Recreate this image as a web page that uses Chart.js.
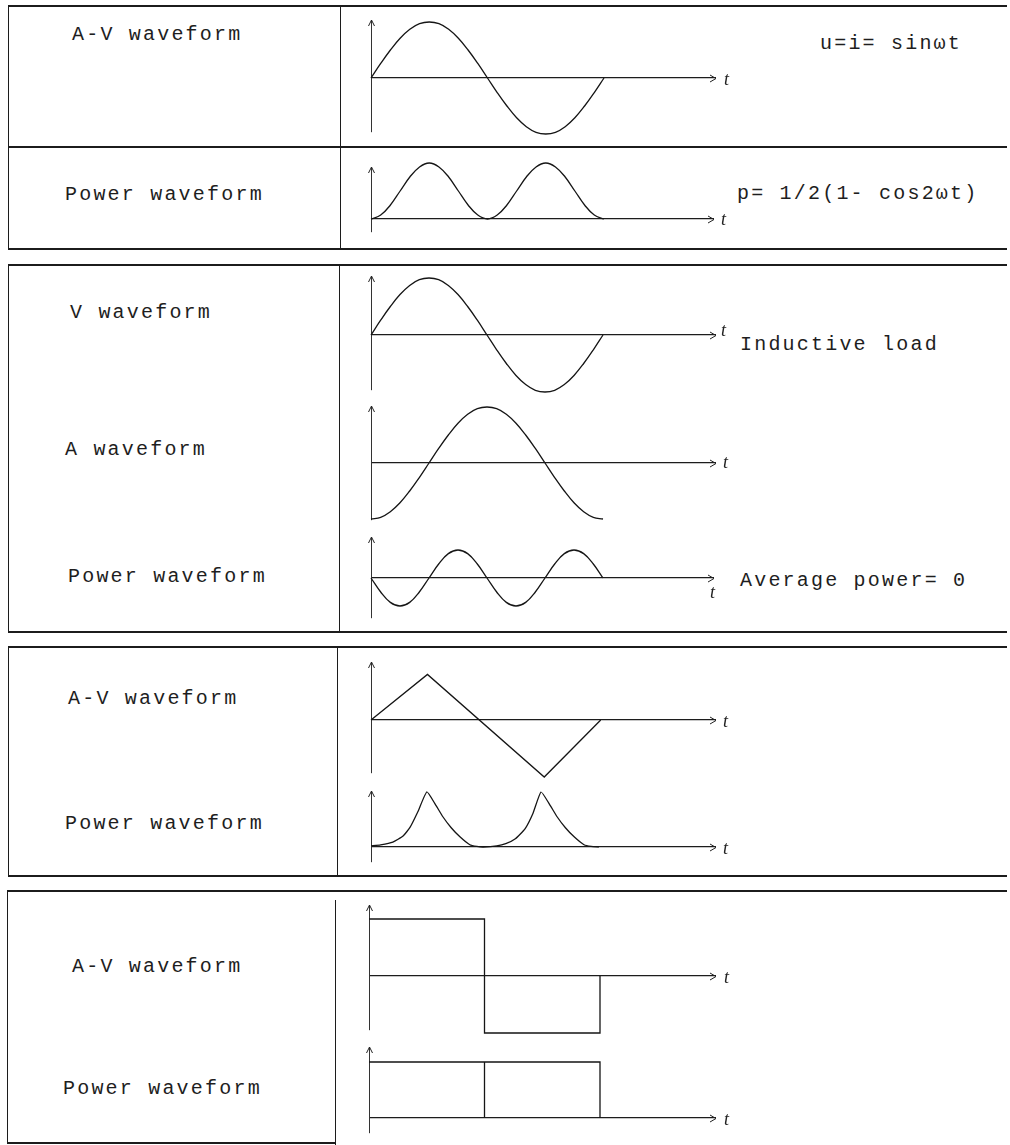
<!DOCTYPE html>
<html>
<head>
<meta charset="utf-8">
<script src="https://cdn.jsdelivr.net/npm/chart.js@4.4.0/dist/chart.umd.min.js"></script>
<style>
  body { margin: 0; background: #fff; }
  #page { position: relative; width: 1010px; height: 1145px; overflow: hidden; }
  .ln { position: absolute; background: #1c1c1c; }
  .lbl { position: absolute; font-family: "Liberation Mono", monospace; font-size: 20px; letter-spacing: 2.2px;
         color: #1e1e1e; line-height: 1; transform: translateY(-50%); white-space: nowrap; }
  .wave { position: absolute; }
</style>
</head>
<body>
<div id="page"></div>
<script>
// x values are in degrees of wt (one period = 360)
const sinDeg = [0, 15, 30, 45, 60, 75, 90, 105, 120, 135, 150, 165, 180, 195, 210, 225, 240, 255, 270, 285, 300, 315, 330, 345, 360];

// section 1: resistive load
const avSine    = [0, 0.26, 0.5, 0.71, 0.87, 0.97, 1, 0.97, 0.87, 0.71, 0.5, 0.26, 0, -0.26, -0.5, -0.71, -0.87, -0.97, -1, -0.97, -0.87, -0.71, -0.5, -0.26, 0];
const powerSin2 = [0, 0.07, 0.25, 0.5, 0.75, 0.93, 1, 0.93, 0.75, 0.5, 0.25, 0.07, 0, 0.07, 0.25, 0.5, 0.75, 0.93, 1, 0.93, 0.75, 0.5, 0.25, 0.07, 0];

// section 2: inductive load
const vInductive = [0, 0.26, 0.5, 0.71, 0.87, 0.97, 1, 0.97, 0.87, 0.71, 0.5, 0.26, 0, -0.26, -0.5, -0.71, -0.87, -0.97, -1, -0.97, -0.87, -0.71, -0.5, -0.26, 0];
const aInductive = [-1, -0.97, -0.87, -0.71, -0.5, -0.26, 0, 0.26, 0.5, 0.71, 0.87, 0.97, 1, 0.97, 0.87, 0.71, 0.5, 0.26, 0, -0.26, -0.5, -0.71, -0.87, -0.97, -1];
const pInductive = [0, -0.5, -0.87, -1, -0.87, -0.5, 0, 0.5, 0.87, 1, 0.87, 0.5, 0, -0.5, -0.87, -1, -0.87, -0.5, 0, 0.5, 0.87, 1, 0.87, 0.5, 0];

// section 3: triangle wave
const triDeg = [0, 88, 270, 358];
const triAV  = [0, 0.8, -1, 0];
const triPowDeg = [0, 15, 34, 50, 61, 73, 87, 100, 112, 125, 139, 154, 165, 175, 196, 210, 225, 240, 252, 265, 278, 290, 303, 317, 332, 343, 355];
const triPow    = [0.02, 0.04, 0.09, 0.2, 0.36, 0.64, 1, 0.78, 0.55, 0.35, 0.18, 0.04, 0.01, 0, 0.02, 0.06, 0.15, 0.33, 0.6, 1, 0.78, 0.55, 0.35, 0.18, 0.04, 0.01, 0];

// section 4: square wave
const sqDeg = [0, 180, 180, 360, 360];
const sqAV  = [1, 1, -1, -1, 0];
const sqPowDeg = [0, 180, 180, 180, 360, 360];
const sqPow    = [1, 1, 0, 1, 1, 0];

const page = document.getElementById('page');

// table rules (layout only)
const rules = [
  // section 1
  [8, 5, 999, 2], [8, 5, 1, 244], [340, 5, 1, 244], [8, 146, 999, 2], [8, 248, 999, 2],
  // section 2
  [8, 264, 999, 2], [8, 264, 1, 368], [339, 264, 1, 368], [8, 631, 999, 2],
  // section 3
  [8, 646, 999, 2], [8, 646, 1, 230], [337, 646, 1, 230], [8, 875, 999, 2],
  // section 4
  [7, 890, 1000, 2], [7, 890, 1, 253], [335, 900, 1, 245], [7, 1142, 328, 2]
];
rules.forEach(r => {
  const d = document.createElement('div');
  d.className = 'ln';
  d.style.cssText = `left:${r[0]}px;top:${r[1]}px;width:${r[2]}px;height:${r[3]}px;`;
  page.appendChild(d);
});

const labels = [
  ['A-V waveform', 72, 35], ['Power waveform', 65, 195], ['u=i= sin\u03c9t', 820, 44], ['p= 1/2(1- cos2\u03c9t)', 737, 194],
  ['V waveform', 70, 313], ['A waveform', 65, 450], ['Power waveform', 68, 577],
  ['Inductive load', 740, 345], ['Average power= 0', 740, 581],
  ['A-V waveform', 68, 699], ['Power waveform', 65, 824],
  ['A-V waveform', 72, 967], ['Power waveform', 63, 1089]
];
labels.forEach(l => {
  const d = document.createElement('div');
  d.className = 'lbl';
  d.textContent = l[0];
  d.style.left = l[1] + 'px';
  d.style.top = l[2] + 'px';
  page.appendChild(d);
});

// arrowheads on the axes and the "t" label
const axisArrows = {
  id: 'axisArrows',
  afterDraw(chart, args, opts) {
    const { ctx, chartArea: a } = chart;
    const y0 = Math.round(chart.scales.y.getPixelForValue(0)) + 0.5;
    const x0 = Math.round(a.left) + 0.5;
    ctx.save();
    ctx.strokeStyle = '#222';
    ctx.lineWidth = 1;
    ctx.beginPath();
    ctx.moveTo(x0 - 3, a.top + 6); ctx.lineTo(x0, a.top); ctx.lineTo(x0 + 3, a.top + 6);
    ctx.moveTo(a.right - 6, y0 - 3.5); ctx.lineTo(a.right, y0); ctx.lineTo(a.right - 6, y0 + 3.5);
    ctx.stroke();
    ctx.fillStyle = '#222';
    ctx.font = 'italic 18px "Liberation Serif"';
    ctx.textBaseline = 'middle';
    ctx.fillText('t', a.right + opts.dx, y0 + opts.dy);
    ctx.restore();
  }
};

const padL = 8, padT = 6, padR = 30, padB = 22;

function waveChart(xs, ys, g) {
  const w = g.end - g.left + padL + padR;
  const h = g.bottom - g.top + padT + padB;
  const holder = document.createElement('div');
  holder.className = 'wave';
  holder.style.cssText = `left:${g.left - padL}px;top:${g.top - padT}px;width:${w}px;height:${h}px;`;
  const cv = document.createElement('canvas');
  cv.width = w; cv.height = h;
  holder.appendChild(cv);
  page.appendChild(holder);

  new Chart(cv.getContext('2d'), {
    type: 'line',
    data: {
      datasets: [{
        data: xs.map((x, i) => ({ x: x, y: ys[i] })),
        borderColor: '#151515',
        borderWidth: 1.3,
        pointRadius: 0,
        tension: g.tension,
        fill: false,
        clip: false
      }]
    },
    options: {
      responsive: false,
      animation: false,
      layout: { padding: { left: padL, right: padR, top: padT, bottom: padB } },
      plugins: { legend: { display: false }, tooltip: { enabled: false }, axisArrows: { dx: g.tdx, dy: g.tdy } },
      scales: {
        x: { type: 'linear', display: false, min: 0, max: 360 * (g.end - g.left) / g.period },
        y: {
          min: -(g.bottom - g.base) / g.amp,
          max: (g.base - g.top) / g.amp,
          afterBuildTicks: s => { s.ticks = [{ value: 0 }]; },
          ticks: { display: false },
          grid: { drawTicks: false, color: '#1c1c1c', lineWidth: 1.2 },
          border: { display: true, color: '#333', width: 1 }
        }
      }
    },
    plugins: [axisArrows]
  });
}

waveChart(sinDeg, avSine,     { left: 371, top: 20,   bottom: 132,  base: 78,   amp: 56, end: 716, period: 233, tension: 0.4, tdx: 8, tdy: 2 });
waveChart(sinDeg, powerSin2,  { left: 371, top: 167,  bottom: 232,  base: 219,  amp: 56, end: 714, period: 233, tension: 0.4, tdx: 7, tdy: 1 });
waveChart(sinDeg, vInductive, { left: 371, top: 276,  bottom: 390,  base: 335,  amp: 57, end: 716, period: 232, tension: 0.4, tdx: 5, tdy: -4 });
waveChart(sinDeg, aInductive, { left: 371, top: 406,  bottom: 520,  base: 463,  amp: 56, end: 716, period: 232, tension: 0.4, tdx: 7, tdy: 0 });
waveChart(sinDeg, pInductive, { left: 371, top: 537,  bottom: 618,  base: 578,  amp: 28, end: 714, period: 232, tension: 0.4, tdx: -4, tdy: 15 });
waveChart(triDeg, triAV,      { left: 371, top: 662,  bottom: 773,  base: 720,  amp: 57, end: 716, period: 231, tension: 0,   tdx: 7, tdy: 2 });
waveChart(triPowDeg, triPow,  { left: 371, top: 791,  bottom: 862,  base: 847,  amp: 55, end: 716, period: 231, tension: 0.15, tdx: 7, tdy: 2 });
waveChart(sqDeg, sqAV,        { left: 369, top: 905,  bottom: 1030, base: 976,  amp: 57, end: 716, period: 231, tension: 0,   tdx: 8, tdy: 2 });
waveChart(sqPowDeg, sqPow,    { left: 369, top: 1047, bottom: 1133, base: 1118, amp: 56, end: 716, period: 231, tension: 0,   tdx: 8, tdy: 2 });
</script>
</body>
</html>
